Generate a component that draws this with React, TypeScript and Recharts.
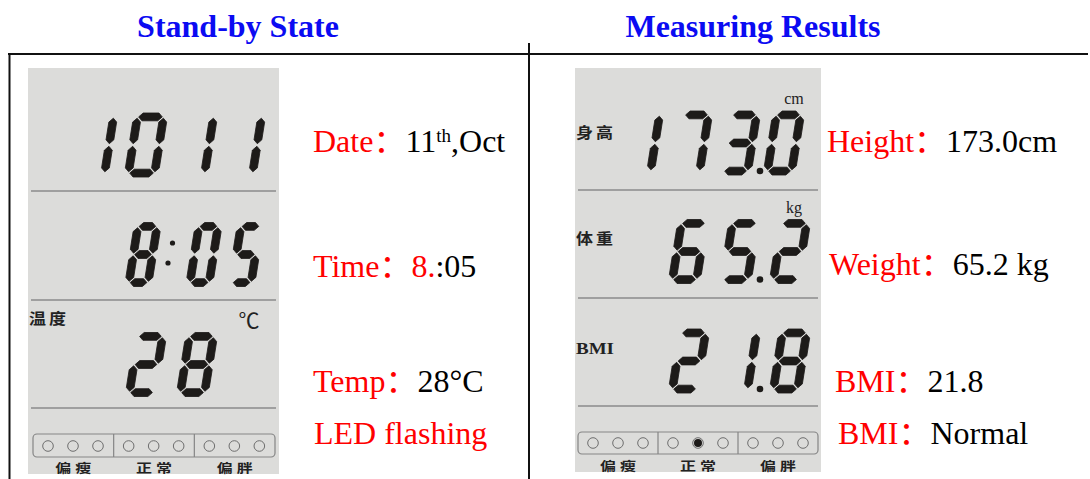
import { ScatterChart, Scatter, XAxis, YAxis, Customized } from "recharts";

// --- readouts shown on the two LCDs ---
const TITLES = ["Stand-by State", "Measuring Results"];
const STANDBY_READOUTS = ["1011", "8:05", "28"];
const MEASURE_READOUTS = ["173.0", "65.2", "21.8"];
const STANDBY_TAGS = ["", "", "温度"];
const MEASURE_TAGS = ["身高", "体重", "BMI"];
const STANDBY_UNITS = ["", "", "℃"];
const MEASURE_UNITS = ["cm", "kg", ""];
const BMI_BANDS = ["偏瘦", "正常", "偏胖"];
const STANDBY_LEDS = [0, 0, 0, 0, 0, 0, 0, 0, 0];
const MEASURE_LEDS = [0, 0, 0, 0, 1, 0, 0, 0, 0];

// notes: [text, style]  r = red, k = black, sup = superscript
const STANDBY_NOTES = [
  [["Date：", "r"], ["11", "k"], ["th", "sup"], [",Oct", "k"]],
  [["Time：", "r"], ["8.", "r"], [":05", "k"]],
  [["Temp：", "r"], ["28°C", "k"]],
  [["LED flashing", "r"]],
];
const MEASURE_NOTES = [
  [["Height：", "r"], ["173.0cm", "k"]],
  [["Weight：", "r"], ["65.2 kg", "k"]],
  [["BMI：", "r"], ["21.8", "k"]],
  [["BMI：", "r"], ["Normal", "k"]],
];

// --- layout ---
const WIDTH = 1090;
const HEIGHT = 479;
const SERIF = "'Liberation Serif', 'Times New Roman', 'Noto Sans CJK SC', serif";
const CJK = "'Noto Sans CJK SC', sans-serif";
const RED = "#ff0000";
const BLUE = "#0b0bf2";
const LCD = "#dcdcda";
const INK = "#1d1b19";

const PANELS = [
  {
    x: 28, y: 68, w: 251, h: 406, rules: [191, 300, 408],
    rowY: [145, 254.5, 364.5],
    rowW: [34, 27, 32],
    cells: [[96, 146, 196, 244], [143, 204, 246], [146, 197]],
    readouts: STANDBY_READOUTS, tags: STANDBY_TAGS, units: STANDBY_UNITS,
    tagY: [0, 0, 317.5], unitX: 249, unitY: [0, 0, 321],
    led: { x: 33, y: 434, w: 242, h: 23, cy: 446, labelY: 467.5 }, leds: STANDBY_LEDS,
    notes: STANDBY_NOTES, noteX: [313, 313, 313, 314], noteY: [152, 277, 392, 444],
    title: TITLES[0], titleX: 238,
  },
  {
    x: 575, y: 68, w: 246, h: 404, rules: [190, 298, 406],
    rowY: [143, 251.5, 361],
    rowW: [32, 32, 32],
    cells: [[643, 692, 740, 784], [689, 740, 790], [689, 740, 790]],
    readouts: MEASURE_READOUTS, tags: MEASURE_TAGS, units: MEASURE_UNITS,
    tagY: [131, 237, 348], unitX: 794, unitY: [98, 207, 0],
    led: { x: 578, y: 432, w: 240, h: 22, cy: 443, labelY: 465 }, leds: MEASURE_LEDS,
    notes: MEASURE_NOTES, noteX: [827, 829, 835, 838], noteY: [152, 275, 392, 444],
    title: TITLES[1], titleX: 753,
  },
];

// digit glyph geometry
const DH = 64;
const DT = 7.8;
const GAP = 1.3;
const SEGMENTS: Record<string, string> = {
  "0": "abcdef", "1": "bc", "2": "abged", "3": "abgcd", "4": "fgbc",
  "5": "afgcd", "6": "afgedc", "7": "abc", "8": "abcdefg", "9": "abcdfg",
};

type Glyph = { x: number; y: number; ch: string; w: number; dp: boolean; colon: boolean };

function glyphsFor(panel: (typeof PANELS)[number]): Glyph[] {
  const out: Glyph[] = [];
  panel.readouts.forEach((text, row) => {
    let cell = 0;
    for (const ch of text) {
      if (ch === "." && out.length) out[out.length - 1].dp = true;
      else if (ch === ":" && out.length) out[out.length - 1].colon = true;
      else {
        out.push({ x: panel.cells[row][cell], y: panel.rowY[row], ch, w: panel.rowW[row], dp: false, colon: false });
        cell += 1;
      }
    }
  });
  return out;
}

function ledsFor(panel: (typeof PANELS)[number]) {
  const sec = panel.led.w / 3;
  return panel.leds.map((on, i) => ({
    x: panel.led.x + Math.floor(i / 3) * sec + 15 + (i % 3) * 25,
    y: panel.led.cy,
    on,
  }));
}

function segPoints(x0: number, y0: number, x1: number, y1: number) {
  const L = Math.hypot(x1 - x0, y1 - y0);
  const ux = (x1 - x0) / L;
  const uy = (y1 - y0) / L;
  const nx = -uy;
  const ny = ux;
  const h = DT / 2;
  const p = [
    [x0 + ux * GAP, y0 + uy * GAP],
    [x0 + ux * (GAP + h) + nx * h, y0 + uy * (GAP + h) + ny * h],
    [x1 - ux * (GAP + h) + nx * h, y1 - uy * (GAP + h) + ny * h],
    [x1 - ux * GAP, y1 - uy * GAP],
    [x1 - ux * (GAP + h) - nx * h, y1 - uy * (GAP + h) - ny * h],
    [x0 + ux * (GAP + h) - nx * h, y0 + uy * (GAP + h) - ny * h],
  ];
  return p.map((q) => `${q[0].toFixed(2)},${q[1].toFixed(2)}`).join(" ");
}

function segLines(dw: number): Record<string, number[]> {
  const hw = (dw - DT) / 2;
  const hh = (DH - DT) / 2;
  return {
    a: [-hw, -hh, hw, -hh],
    b: [hw, -hh, hw, 0],
    c: [hw, 0, hw, hh],
    d: [-hw, hh, hw, hh],
    e: [-hw, 0, -hw, hh],
    f: [-hw, -hh, -hw, 0],
    g: [-hw, 0, hw, 0],
  };
}

const DigitShape = (props: any) => {
  const { cx, cy, payload } = props;
  const segs = SEGMENTS[payload.ch] || "";
  const lines = segLines(payload.w);
  return (
    <g>
      <g transform={`translate(${cx},${cy}) skewX(-9)`}>
        {segs.split("").map((s) => {
          const [x0, y0, x1, y1] = lines[s];
          return (
            <polygon key={s} points={segPoints(x0, y0, x1, y1)} fill={INK} stroke={INK} strokeWidth={0.8} strokeLinejoin="round" />
          );
        })}
      </g>
      {payload.dp && <circle cx={cx + 20} cy={cy + 28} r={3.3} fill={INK} />}
      {payload.colon && (
        <>
          <circle cx={cx + 29.5} cy={cy - 11.5} r={2.6} fill={INK} />
          <circle cx={cx + 25} cy={cy + 8.5} r={2.6} fill={INK} />
        </>
      )}
    </g>
  );
};

const LedShape = (props: any) => {
  const { cx, cy, payload } = props;
  return (
    <g>
      <circle cx={cx} cy={cy} r={5.3} fill="none" stroke="#6e6e6e" strokeWidth={1} />
      {payload.on ? <circle cx={cx} cy={cy} r={4} fill={INK} /> : null}
    </g>
  );
};

function Note({ parts, x, y }: { parts: string[][]; x: number; y: number }) {
  let lifted = false;
  return (
    <text x={x} y={y} fontFamily={SERIF} fontSize={32}>
      {parts.map(([t, s], i) => {
        if (s === "sup") {
          lifted = true;
          return (
            <tspan key={i} fontSize={19} dy={-10} fill="#000">
              {t}
            </tspan>
          );
        }
        const dy = lifted ? 10 : undefined;
        lifted = false;
        return (
          <tspan key={i} dy={dy} fill={s === "r" ? RED : "#000"}>
            {t}
          </tspan>
        );
      })}
    </text>
  );
}

function Backdrop() {
  return (
    <g>
      {/* frame */}
      <line x1={8} y1={54} x2={1088} y2={54} stroke="#111" strokeWidth={2} />
      <line x1={9.5} y1={54} x2={9.5} y2={479} stroke="#111" strokeWidth={2} />
      <line x1={529} y1={43} x2={529} y2={479} stroke="#111" strokeWidth={2} />
      {PANELS.map((p, k) => (
        <g key={k}>
          <text x={p.titleX} y={37} textAnchor="middle" fontFamily={SERIF} fontWeight="bold" fontSize={32} fill={BLUE}>
            {p.title}
          </text>
          <rect x={p.x} y={p.y} width={p.w} height={p.h} fill={LCD} />
          {p.rules.map((r) => (
            <line key={r} x1={p.x + 3} x2={p.x + p.w - 3} y1={r} y2={r} stroke="#8b8b8b" strokeWidth={1.4} />
          ))}
          {p.tags.map((t, i) =>
            t ? (
              <text
                key={t}
                transform={`translate(${p.x + 1},${p.tagY[i]}) scale(1,0.9)`}
                dominantBaseline="central"
                fontFamily={t === "BMI" ? SERIF : CJK}
                fontWeight="bold"
                fontSize={t === "BMI" ? 19 : 17}
                letterSpacing={t === "BMI" ? 0 : 3}
                fill="#222"
              >
                {t}
              </text>
            ) : null
          )}
          {p.units.map((u, i) =>
            u ? (
              <text
                key={u}
                x={p.unitX}
                y={p.unitY[i]}
                textAnchor="middle"
                dominantBaseline="central"
                fontFamily={SERIF}
                fontSize={u === "℃" ? 21 : 16}
                fill="#222"
              >
                {u}
              </text>
            ) : null
          )}
          <rect x={p.led.x} y={p.led.y} width={p.led.w} height={p.led.h} rx={4} fill="none" stroke="#858585" strokeWidth={1.2} />
          {[1, 2].map((j) => (
            <line
              key={j}
              x1={p.led.x + (p.led.w / 3) * j}
              x2={p.led.x + (p.led.w / 3) * j}
              y1={p.led.y}
              y2={p.led.y + p.led.h}
              stroke="#858585"
              strokeWidth={1.2}
            />
          ))}
          {BMI_BANDS.map((b, j) => (
            <text
              key={b}
              transform={`translate(${p.led.x + (p.led.w / 3) * (j + 0.5) + 2},${p.led.labelY}) scale(1,0.78)`}
              textAnchor="middle"
              dominantBaseline="central"
              fontFamily={CJK}
              fontWeight="bold"
              fontSize={16}
              letterSpacing={4}
              fill="#222"
            >
              {b}
            </text>
          ))}
          {p.notes.map((n, i) => (
            <Note key={i} parts={n} x={p.noteX[i]} y={p.noteY[i]} />
          ))}
        </g>
      ))}
    </g>
  );
}

export default function App() {
  return (
    <div style={{ position: "absolute", left: 0, top: 0, width: WIDTH, height: HEIGHT, background: "#fff" }}>
      <ScatterChart width={WIDTH} height={HEIGHT} margin={{ top: 0, right: 0, bottom: 0, left: 0 }}>
        <XAxis type="number" dataKey="x" domain={[0, WIDTH]} hide allowDataOverflow />
        <YAxis type="number" dataKey="y" domain={[0, HEIGHT]} reversed hide allowDataOverflow />
        <Customized component={Backdrop} />
        {PANELS.map((p, k) => (
          <Scatter key={`d${k}`} data={glyphsFor(p)} shape={DigitShape} isAnimationActive={false} />
        ))}
        {PANELS.map((p, k) => (
          <Scatter key={`l${k}`} data={ledsFor(p)} shape={LedShape} isAnimationActive={false} />
        ))}
      </ScatterChart>
    </div>
  );
}
